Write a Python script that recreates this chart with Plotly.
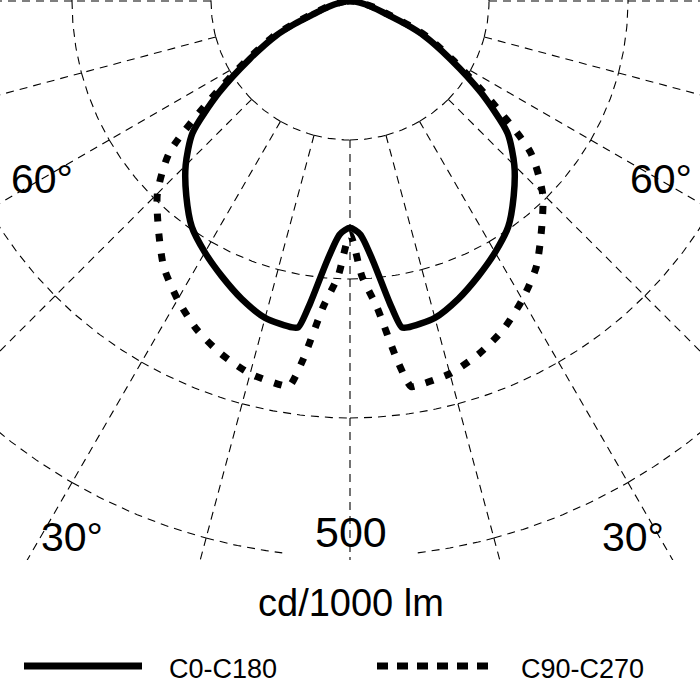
import numpy as np
import plotly.graph_objects as go

# ---------------- data (cd/1000 lm) ----------------
gamma_deg = [0, 2.5, 5, 7.5, 9, 10, 15, 20, 25, 30, 35, 40, 45, 50, 55, 60, 65, 67.5, 70, 75, 80, 85, 90]
c0_c180 = [204, 210, 234, 274, 297, 298, 295, 285, 273, 261, 248, 229, 209, 185, 144, 104, 73, 54, 36, 20, 9, 3, 0]
c90_c270 = [210, 248, 276, 326, 351, 351, 347, 338, 326, 310, 292, 268, 245, 212, 152, 108, 77, 58, 40, 23, 11, 4, 0]

grid_values = [125, 250, 375, 500, 625, 750]
radial_angles = list(range(-180, 180, 15))
scale_label = "500"
unit_label = "cd/1000 lm"
series_names = ["C0-C180", "C90-C270"]
angle_labels = ["60°", "60°", "30°", "30°"]

# ---------------- geometry ----------------
PX = 139.0 / 125.0          # pixels per cd
W, H_PLOT = 700, 560
FONT = "Liberation Sans, Arial, sans-serif"


def to_xy(theta_deg, r):
    t = np.radians(np.asarray(theta_deg, dtype=float))
    r = np.asarray(r, dtype=float)
    return r * np.sin(t), -r * np.cos(t)


def mirrored(gam, vals):
    th = [-g for g in reversed(gam)] + list(gam[1:])
    rr = list(reversed(vals)) + list(vals[1:])
    return to_xy(th, rr)


# grid: circle arcs between radial lines, radial segments between circles
gx, gy = [], []
for rv in grid_values[:-1]:
    for a1 in radial_angles:
        a2 = a1 + 15
        pieces = [(a1, a2)]
        if rv == 500 and (a1 == 0 or a2 == 0):
            pieces = [(a1, -7)] if a2 == 0 else [(7, a2)]
        for p1, p2 in pieces:
            th = np.linspace(p1, p2, 25)
            x, y = to_xy(th, np.full_like(th, rv))
            gx += list(x) + [None]
            gy += list(y) + [None]
for a in radial_angles:
    for k in range(len(grid_values) - 1):
        x, y = to_xy([a, a], [grid_values[k], grid_values[k + 1]])
        gx += list(x) + [None]
        gy += list(y) + [None]

fig = go.Figure()
fig.add_trace(go.Scatter(x=gx, y=gy, mode="lines", hoverinfo="skip", showlegend=False,
                         line=dict(color="black", width=1.1, dash="8px,6px")))

x2, y2 = mirrored(gamma_deg, c90_c270)
fig.add_trace(go.Scatter(x=x2, y=y2, mode="lines", name=series_names[1], showlegend=False,
                         line=dict(color="black", width=7, dash="8px,12px",
                                   shape="spline", smoothing=0.7)))
x1, y1 = mirrored(gamma_deg, c0_c180)
fig.add_trace(go.Scatter(x=x1, y=y1, mode="lines", name=series_names[0], showlegend=False,
                         line=dict(color="black", width=6.5, shape="spline", smoothing=0.7)))


def px_to_data(dx, dy):
    return dx / PX, -dy / PX


label_pos = [(-308, 178), (311, 178), (-278, 536), (283, 536)]
for txt, (dx, dy) in zip(angle_labels, label_pos):
    lx, ly = px_to_data(dx, dy)
    fig.add_annotation(x=lx, y=ly, xref="x", yref="y", text=txt, showarrow=False,
                       font=dict(family=FONT, size=41, color="black"),
                       xanchor="center", yanchor="middle")
sx, sy = px_to_data(1, 531)
fig.add_annotation(x=sx, y=sy, xref="x", yref="y", text=scale_label, showarrow=False,
                   font=dict(family=FONT, size=43, color="black"),
                   xanchor="center", yanchor="middle")


def pyp(ypx):
    return (H_PLOT - ypx) / H_PLOT


fig.add_annotation(x=351 / W, y=pyp(603), xref="paper", yref="paper", text=unit_label,
                   showarrow=False, font=dict(family=FONT, size=38, color="black"),
                   xanchor="center", yanchor="middle")

# legend keys
fig.add_shape(type="line", xref="paper", yref="paper", x0=24 / W, x1=142 / W,
              y0=pyp(666), y1=pyp(666), line=dict(color="black", width=7))
fig.add_shape(type="line", xref="paper", yref="paper", x0=377 / W, x1=491 / W,
              y0=pyp(666), y1=pyp(666), line=dict(color="black", width=7, dash="11px,9px"))
fig.add_annotation(x=167 / W, y=pyp(669), xref="paper", yref="paper", text=series_names[0],
                   showarrow=False, font=dict(family=FONT, size=27, color="black"),
                   xanchor="left", yanchor="middle")
fig.add_annotation(x=519 / W, y=pyp(669), xref="paper", yref="paper", text=series_names[1],
                   showarrow=False, font=dict(family=FONT, size=27, color="black"),
                   xanchor="left", yanchor="middle")

fig.update_layout(
    width=W, height=700,
    margin=dict(l=0, r=0, t=0, b=700 - H_PLOT, pad=0),
    paper_bgcolor="white", plot_bgcolor="white",
    showlegend=False,
    xaxis=dict(range=[-350 / PX, 350 / PX], visible=False, fixedrange=True),
    yaxis=dict(range=[-(H_PLOT - 1) / PX, 1 / PX], visible=False, fixedrange=True),
)
fig.write_html("out.html", config={"displayModeBar": False},
               post_script="document.body.style.margin='0';document.body.style.overflow='hidden';")
